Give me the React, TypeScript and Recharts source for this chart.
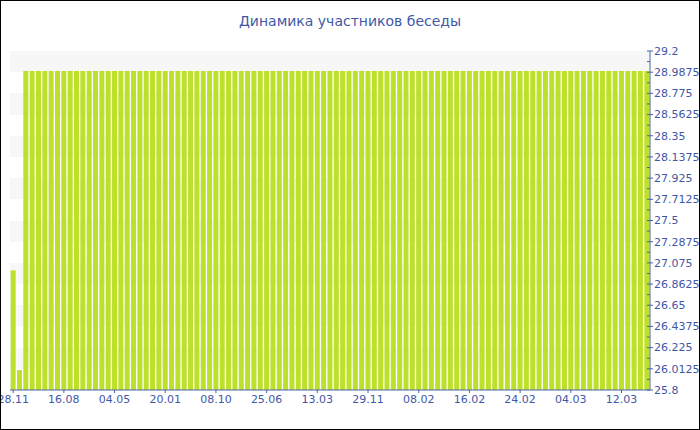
import { BarChart, Bar, XAxis, YAxis, CartesianGrid } from 'recharts';

const BLUE = '#3f58a6';
const AXIS = '#4a62aa';
const BAR = '#bde02a';
const FONT = '"DejaVu Sans", Verdana, sans-serif';

// one bar per reported day
const dates = [
  '28.11', '31.12', '02.02', '07.03', '09.04', '12.05', '14.06', '16.07',
  '16.08', '18.09', '20.10', '22.11', '24.12', '26.01', '28.02', '02.04',
  '04.05', '06.06', '08.07', '10.08', '11.09', '14.10', '16.11', '18.12',
  '20.01', '22.02', '27.03', '28.04', '31.05', '02.07', '04.08', '06.09',
  '08.10', '10.11', '12.12', '14.01', '16.02', '19.03', '21.04', '23.05',
  '25.06', '28.07', '29.08', '01.10', '03.11', '05.12', '07.01', '09.02',
  '13.03', '15.04', '17.05', '19.06', '21.07', '23.08', '25.09', '27.10',
  '29.11', '08.12', '17.12', '26.12', '04.01', '13.01', '22.01', '31.01',
  '08.02', '09.02', '10.02', '11.02', '12.02', '13.02', '14.02', '15.02',
  '16.02', '17.02', '18.02', '19.02', '20.02', '21.02', '22.02', '23.02',
  '24.02', '25.02', '26.02', '27.02', '28.02', '01.03', '02.03', '03.03',
  '04.03', '05.03', '06.03', '07.03', '08.03', '09.03', '10.03', '11.03',
  '12.03', '13.03', '14.03', '15.03', '16.03',
];

const members = [
  27, 26, 29, 29, 29, 29, 29, 29, 29, 29, 29, 29, 29, 29, 29, 29,
  29, 29, 29, 29, 29, 29, 29, 29, 29, 29, 29, 29, 29, 29, 29, 29,
  29, 29, 29, 29, 29, 29, 29, 29, 29, 29, 29, 29, 29, 29, 29, 29,
  29, 29, 29, 29, 29, 29, 29, 29, 29, 29, 29, 29, 29, 29, 29, 29,
  29, 29, 29, 29, 29, 29, 29, 29, 29, 29, 29, 29, 29, 29, 29, 29,
  29, 29, 29, 29, 29, 29, 29, 29, 29, 29, 29, 29, 29, 29, 29, 29,
  29, 29, 29, 29, 29,
];

const yTicks = [
  25.8, 26.0125, 26.225, 26.4375, 26.65, 26.8625, 27.075, 27.2875, 27.5,
  27.7125, 27.925, 28.1375, 28.35, 28.5625, 28.775, 28.9875, 29.2,
];

const data = dates.map((d, i) => ({ date: d, value: members[i] }));

// minor ticks halfway between the labelled ones
const allTicks: number[] = [];
yTicks.forEach((t, i) => {
  allTicks.push(t);
  if (i < yTicks.length - 1) allTicks.push((t + yTicks[i + 1]) / 2);
});

function RightTick(props: any) {
  const { x, y, payload } = props;
  const major = yTicks.includes(payload.value);
  const ax = x - 4;
  return (
    <g>
      <line
        x1={ax - 3}
        x2={major ? ax + 3 : ax}
        y1={y}
        y2={y}
        stroke={AXIS}
        strokeWidth={1}
      />
      {major && (
        <text x={x} y={y} dy="0.35em" fill={BLUE} fontSize={11} fontFamily={FONT}>
          {String(payload.value)}
        </text>
      )}
    </g>
  );
}

export default function App() {
  return (
    <div
      style={{
        position: 'absolute',
        left: 0,
        top: 0,
        width: 700,
        height: 430,
        boxSizing: 'border-box',
        border: '1px solid #000',
        background: '#fff',
        overflow: 'hidden',
      }}
    >
      <div
        style={{
          position: 'absolute',
          top: 12,
          left: 0,
          width: 698,
          textAlign: 'center',
          color: BLUE,
          fontFamily: FONT,
          fontSize: 14,
        }}
      >
        Динамика участников беседы
      </div>
      <BarChart
        width={698}
        height={428}
        data={data}
        margin={{ top: 50, right: 0, left: 9, bottom: 9 }}
        barCategoryGap="10%"
      >
        <CartesianGrid
          vertical={false}
          stroke="none"
          horizontalFill={['#f7f7f7', '#f7f7f7', '#ffffff', '#ffffff']}
        />
        <XAxis
          dataKey="date"
          interval={7}
          height={30}
          tickSize={3}
          tickMargin={2}
          axisLine={{ stroke: AXIS }}
          tickLine={{ stroke: AXIS }}
          tick={{ fill: BLUE, fontSize: 11, fontFamily: FONT }}
        />
        <YAxis
          orientation="right"
          width={49}
          domain={[25.8, 29.2]}
          ticks={allTicks}
          interval={0}
          tickSize={3}
          tickMargin={1}
          tickLine={false}
          axisLine={{ stroke: AXIS }}
          tick={<RightTick />}
          allowDataOverflow
        />
        <Bar dataKey="value" fill={BAR} isAnimationActive={false} />
      </BarChart>
    </div>
  );
}
